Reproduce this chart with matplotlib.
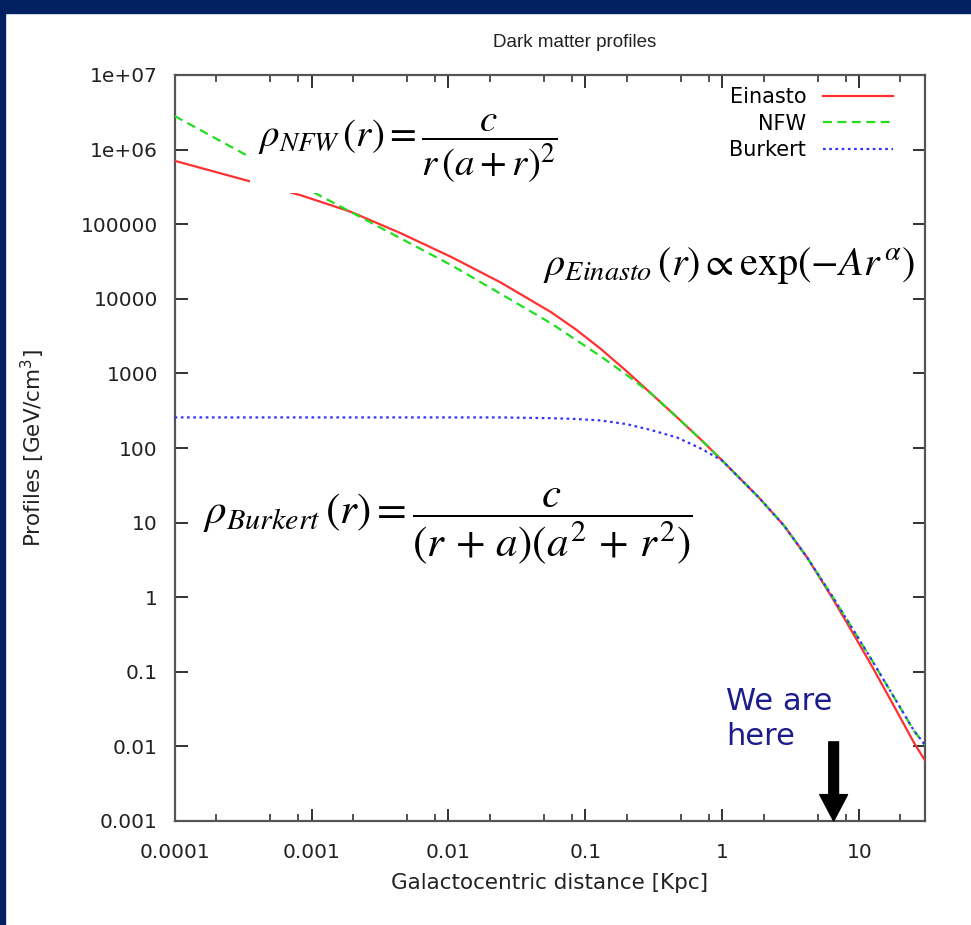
import matplotlib
matplotlib.use('Agg')
import matplotlib.pyplot as plt
from matplotlib.ticker import LogLocator, NullLocator, FixedLocator, FixedFormatter
from matplotlib.patches import Rectangle

# values (distance in kpc, density in GeV/cm^3)
r_kpc = [1e-4, 3.16e-4, 8.3e-4, 1.91e-3, 4.47e-3, 0.0105, 0.024, 0.0562, 0.0851, 0.129,
         0.2, 0.302, 0.468, 0.708, 1.0, 1.86, 2.82, 4.17, 6.31, 8.91, 12.6, 17.8, 25.1, 30]
rho_einasto = [7.08e5, 3.98e5, 2.45e5, 1.48e5, 7.59e4, 3.63e4, 1.66e4, 6.61e3, 3.89e3, 2.14e3,
               1.07e3, 537, 257, 126, 67.6, 21.4, 9.12, 3.39, 1.0, 0.339, 0.112, 0.0355, 0.0112, 0.0066]
rho_nfw = [2.82e6, 8.91e5, 3.31e5, 1.48e5, 6.46e4, 2.82e4, 1.17e4, 4.68e3, 2.82e3, 1.70e3,
           955, 537, 257, 126, 67.6, 21.4, 9.12, 3.39, 1.05, 0.38, 0.135, 0.0468, 0.0162, 0.0105]
rho_burkert = [257, 257, 257, 257, 257, 257, 257, 251, 245, 234,
               209, 174, 138, 97, 67.6, 21.4, 9.12, 3.39, 1.05, 0.38, 0.135, 0.0468, 0.0162, 0.0107]

x_ticks = [1e-4, 1e-3, 1e-2, 1e-1, 1, 10]
x_labels = ['0.0001', '0.001', '0.01', '0.1', '1', '10']
y_ticks = [1e-3, 1e-2, 1e-1, 1, 10, 100, 1e3, 1e4, 1e5, 1e6, 1e7]
y_labels = ['0.001', '0.01', '0.1', '1', '10', '100', '1000', '10000',
            '100000', '1e+06', '1e+07']

sun_r = 6.5  # "We are here" arrow

plt.rcParams['font.family'] = ['DejaVu Sans']
plt.rcParams['mathtext.fontset'] = 'stix'

fig = plt.figure(figsize=(9.71, 9.25), dpi=100)
fig.patch.set_facecolor('white')
# dark blue slide frame
frame = '#002060'
fig.add_artist(Rectangle((0, 1 - 13 / 925), 1, 13 / 925, transform=fig.transFigure,
                         color=frame, zorder=0))
fig.add_artist(Rectangle((0, 0), 5 / 971, 1, transform=fig.transFigure,
                         color=frame, zorder=0))

ax = fig.add_axes([174.6 / 971, 1 - 821 / 925, 750 / 971, 746 / 925])
ax.set_xscale('log')
ax.set_yscale('log')
ax.set_xlim(1e-4, 30)
ax.set_ylim(1e-3, 1e7)

ax.plot(r_kpc, rho_einasto, color='#ff3030', lw=1.6, ls='-', label='Einasto', zorder=3)
ax.plot(r_kpc, rho_nfw, color='#22dd22', lw=1.6, ls=(0, (4, 2.5)), label='NFW', zorder=3)
ax.plot(r_kpc, rho_burkert, color='#3333ff', lw=1.6, ls=(0, (1.2, 1.6)), label='Burkert', zorder=3)

ax.xaxis.set_major_locator(FixedLocator(x_ticks))
ax.xaxis.set_major_formatter(FixedFormatter(x_labels))
ax.xaxis.set_minor_locator(LogLocator(base=10, subs=(2, 5, 8), numticks=20))
ax.yaxis.set_major_locator(FixedLocator(y_ticks))
ax.yaxis.set_major_formatter(FixedFormatter(y_labels))
ax.yaxis.set_minor_locator(NullLocator())
ax.tick_params(which='both', direction='in', top=True, right=True,
               labelsize=14.5, color='#222222', labelcolor='#222222')
ax.tick_params(axis='x', pad=16)
ax.tick_params(axis='y', pad=12)
ax.tick_params(which='major', length=9, width=1.3)
ax.tick_params(which='minor', length=5, width=1.1)
for s in ax.spines.values():
    s.set_color('#555555')
    s.set_linewidth(1.6)

ax.set_title('Dark matter profiles', fontsize=13.5, family='Liberation Sans',
             x=0.533, pad=20, color='#222222')
ax.set_xlabel('Galactocentric distance [Kpc]', fontsize=15.5, color='#222222')
ax.xaxis.set_label_coords(0.5, -0.07)
ax.set_ylabel('Profiles [GeV/cm$^3$]', fontsize=15.5, color='#222222',
              math_fontfamily='dejavusans')
ax.yaxis.set_label_coords(-0.17, 0.5)

ax.legend(loc='upper right', bbox_to_anchor=(0.9685, 0.9946), borderaxespad=0,
          frameon=False, markerfirst=False, fontsize=15,
          handlelength=3.35, labelspacing=0.3, borderpad=0.4, handletextpad=0.8)

# formulas
ax.text(0.111, 0.901, r'$\rho_{NFW}\,(r) = \dfrac{c}{r\,(a+r)^2}$', transform=ax.transAxes,
        fontsize=28, ha='left', va='center', zorder=5,
        bbox=dict(facecolor='white', edgecolor='none', pad=6))
ax.text(0.4916, 0.744, r'$\rho_{Einasto}\,(r) \propto \exp(-Ar^{\,\alpha})$', transform=ax.transAxes,
        fontsize=29, ha='left', va='center', zorder=5)
ax.text(0.038, 0.394, r'$\rho_{Burkert}\,(r) = \dfrac{c}{(r\,+\,a)(a^2\,+\,r^2)}$',
        transform=ax.transAxes, fontsize=31, ha='left', va='center', zorder=5)

ax.text(1.07, 0.0233, 'We are\nhere', fontsize=22, color='#1c1c8c', family='DejaVu Sans',
        ha='left', va='center', linespacing=1.25, zorder=5)
ax.annotate('', xy=(sun_r, 1e-3), xytext=(sun_r, 0.0115),
            arrowprops=dict(facecolor='black', edgecolor='black', width=7, headwidth=20,
                            headlength=19, shrink=0),
            annotation_clip=False, zorder=6)

fig.savefig('out.png', dpi=100)
